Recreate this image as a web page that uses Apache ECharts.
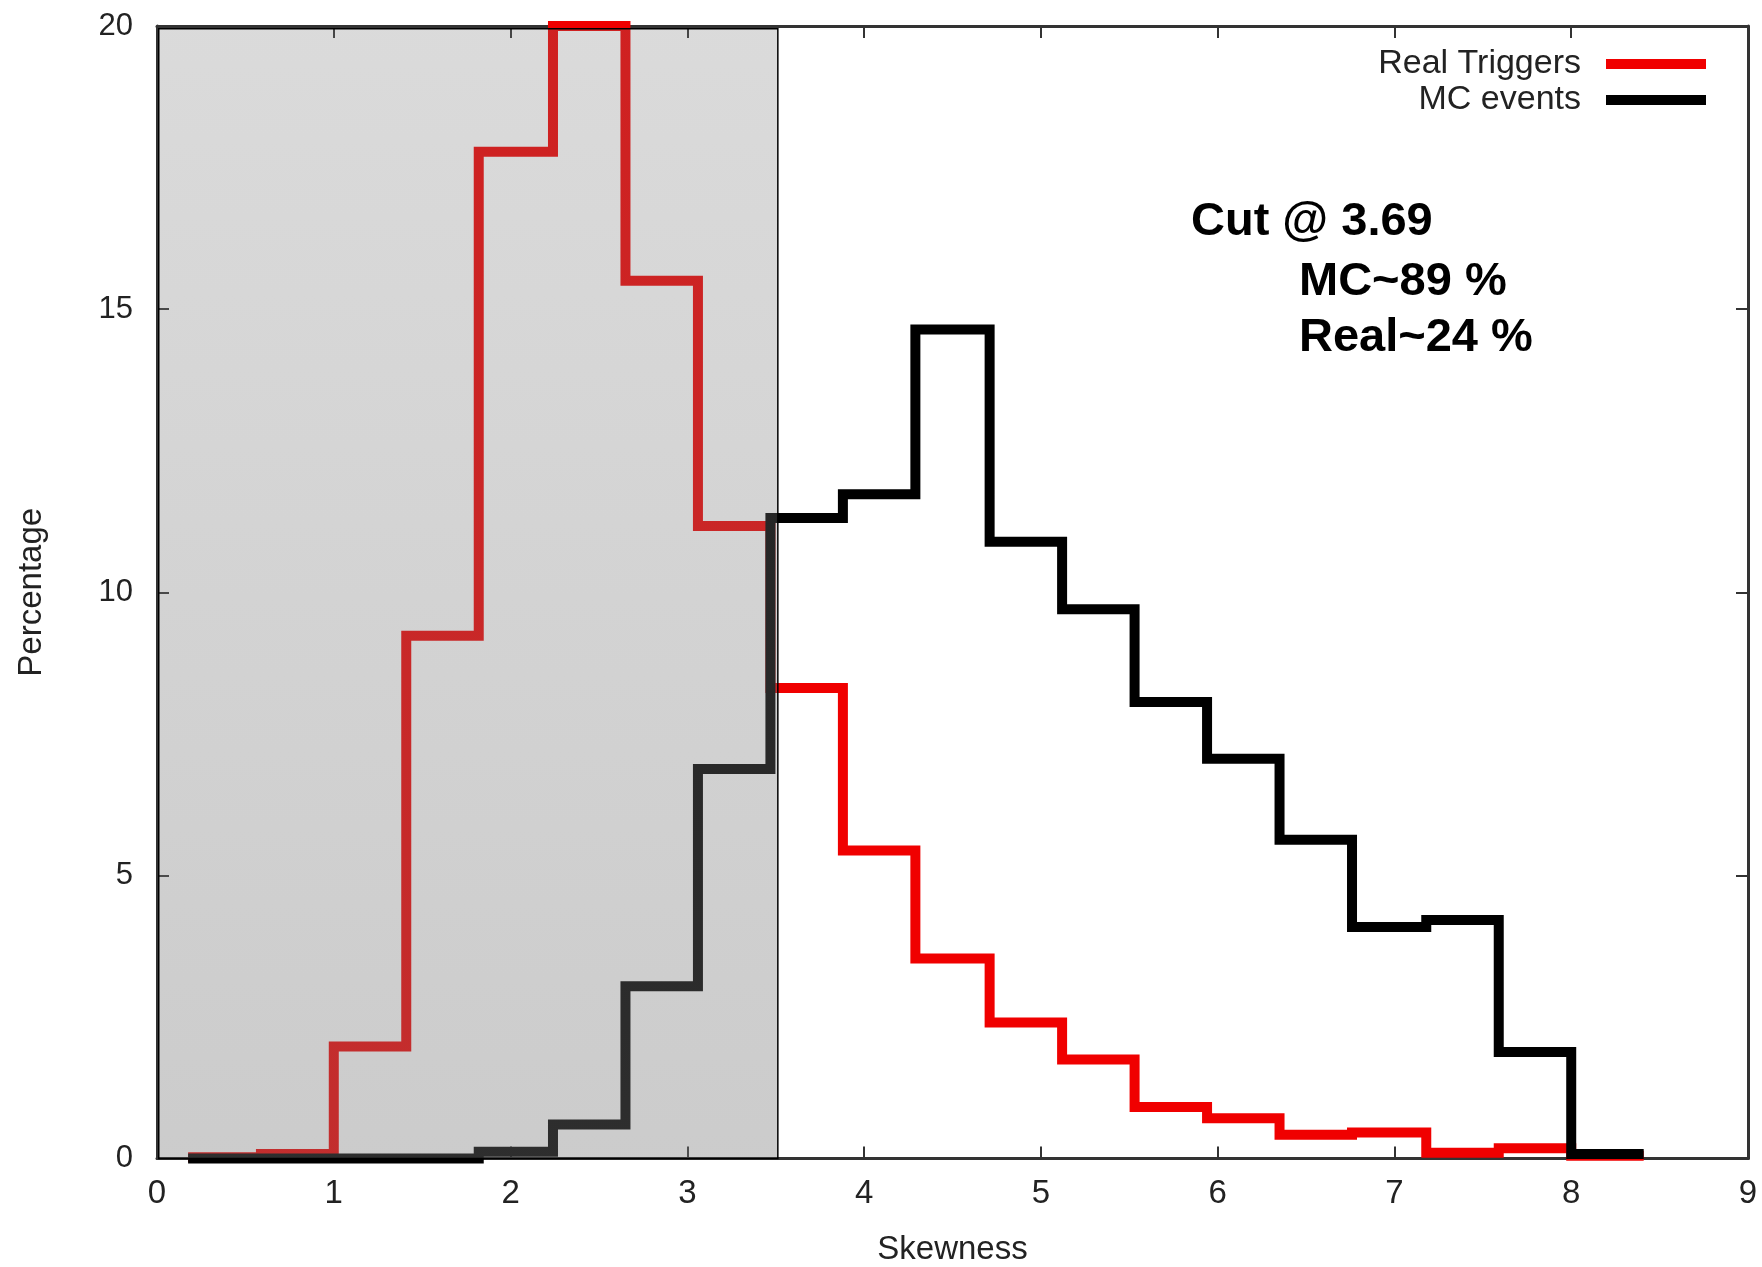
<!DOCTYPE html>
<html>
<head>
<meta charset="utf-8">
<script src="https://cdn.jsdelivr.net/npm/echarts@6/dist/echarts.min.js"></script>
<style>html,body{margin:0;padding:0;background:#fff;}#c{width:1762px;height:1267px;}</style>
</head>
<body>
<div id="c"></div>
<script>
// Bin edges (Skewness) and histogram values (Percentage)
var binEdges = [0.176, 0.588, 1.0, 1.41, 1.82, 2.24, 2.65, 3.06, 3.47, 3.88, 4.29, 4.71, 5.12, 5.53, 5.94, 6.35, 6.76, 7.18, 7.59, 8.0, 8.41];
var realTriggers = [0.02, 0.08, 1.98, 9.23, 17.78, 20.0, 15.5, 11.17, 8.31, 5.44, 3.53, 2.40, 1.75, 0.91, 0.71, 0.42, 0.46, 0.10, 0.18, 0.05];
var mcEvents = [0.0, 0.0, 0.0, 0.0, 0.12, 0.60, 3.04, 6.88, 11.31, 11.73, 14.64, 10.89, 9.70, 8.06, 7.06, 5.63, 4.09, 4.21, 1.88, 0.08];
var xTicks = [0, 1, 2, 3, 4, 5, 6, 7, 8, 9];
var yTicks = [0, 5, 10, 15, 20];
var cutRegion = [0.01, 3.512];
var seriesNames = ['Real Triggers', 'MC events'];
var annotations = ['Cut @ 3.69', 'MC~89 %', 'Real~24 %'];

function stepData(vals) {
  var d = [];
  for (var i = 0; i < vals.length; i++) d.push([binEdges[i], vals[i]]);
  d.push([binEdges[vals.length], vals[vals.length - 1]]);
  return d;
}

var FONT = "'Liberation Sans', Arial, Helvetica, sans-serif";
var axisLineStyle = { color: '#333', width: 3 };
var tickStyle = { inside: true, length: 12, lineStyle: { color: '#333', width: 2 } };

var chart = echarts.init(document.getElementById('c'));
chart.setOption({
  animation: false,
  backgroundColor: '#fff',
  grid: { left: 157, right: 14, top: 26, bottom: 108.5, containLabel: false, outerBoundsMode: 'none' },
  xAxis: [{
    type: 'value',
    min: xTicks[0], max: xTicks[xTicks.length - 1], interval: 1,
    name: 'Skewness', nameLocation: 'middle', nameGap: 75,
    nameTextStyle: { fontSize: 33, color: '#222', fontFamily: FONT },
    axisLine: { show: true, onZero: false, lineStyle: axisLineStyle },
    axisTick: tickStyle,
    axisLabel: { fontSize: 33, color: '#222', margin: 19, fontFamily: FONT },
    splitLine: { show: false }
  }, {
    type: 'value', position: 'top',
    min: xTicks[0], max: xTicks[xTicks.length - 1], interval: 1,
    axisLine: { show: true, onZero: false, lineStyle: axisLineStyle },
    axisTick: tickStyle,
    axisLabel: { show: false },
    splitLine: { show: false }
  }],
  yAxis: [{
    type: 'value',
    min: yTicks[0], max: yTicks[yTicks.length - 1], interval: 5,
    name: 'Percentage', nameLocation: 'middle', nameGap: 109, nameRotate: 90,
    nameTextStyle: { fontSize: 33, color: '#222', fontFamily: FONT },
    axisLine: { show: true, onZero: false, lineStyle: axisLineStyle },
    axisTick: tickStyle,
    axisLabel: { fontSize: 31, color: '#222', margin: 24, fontFamily: FONT },
    splitLine: { show: false }
  }, {
    type: 'value', position: 'right',
    min: yTicks[0], max: yTicks[yTicks.length - 1], interval: 5,
    axisLine: { show: true, onZero: false, lineStyle: axisLineStyle },
    axisTick: tickStyle,
    axisLabel: { show: false },
    splitLine: { show: false }
  }],
  legend: {
    orient: 'vertical', right: 51, top: 42, align: 'right',
    itemWidth: 100, itemHeight: 10, itemGap: 2, icon: 'rect',
    textStyle: { fontSize: 34, color: '#222', fontFamily: FONT, padding: [0, 20, 0, 0] },
    data: seriesNames
  },
  series: [{
    name: seriesNames[0], type: 'line', step: 'end', clip: false, z: 3,
    showSymbol: false, symbol: 'none',
    data: stepData(realTriggers),
    itemStyle: { color: '#f00000' },
    lineStyle: { color: '#f00000', width: 10, join: 'miter', cap: 'butt' }
  }, {
    name: seriesNames[1], type: 'line', step: 'end', clip: false, z: 4,
    showSymbol: false, symbol: 'none',
    data: stepData(mcEvents),
    itemStyle: { color: '#000' },
    lineStyle: { color: '#000', width: 10, join: 'miter', cap: 'butt' }
  }, {
    name: 'cut', type: 'line', data: [], z: 10, silent: true,
    markArea: {
      silent: true, z: 10,
      itemStyle: {
        color: { type: 'linear', x: 0, y: 0, x2: 0, y2: 1, colorStops: [
          { offset: 0, color: 'rgba(120,120,120,0.27)' },
          { offset: 1, color: 'rgba(120,120,120,0.38)' } ] },
        borderColor: '#000', borderWidth: 1.5
      },
      data: [[{ coord: [cutRegion[0], 19.95] }, { coord: [cutRegion[1], -0.06] }]]
    }
  }],
  graphic: [
    { type: 'text', left: 1191, top: 199, style: { text: annotations[0], fontSize: 47, fontWeight: 'bold', fontFamily: FONT, fill: '#000' } },
    { type: 'text', left: 1299, top: 259, style: { text: annotations[1], fontSize: 47, fontWeight: 'bold', fontFamily: FONT, fill: '#000' } },
    { type: 'text', left: 1299, top: 315, style: { text: annotations[2], fontSize: 47, fontWeight: 'bold', fontFamily: FONT, fill: '#000' } }
  ]
});
</script>
</body>
</html>
